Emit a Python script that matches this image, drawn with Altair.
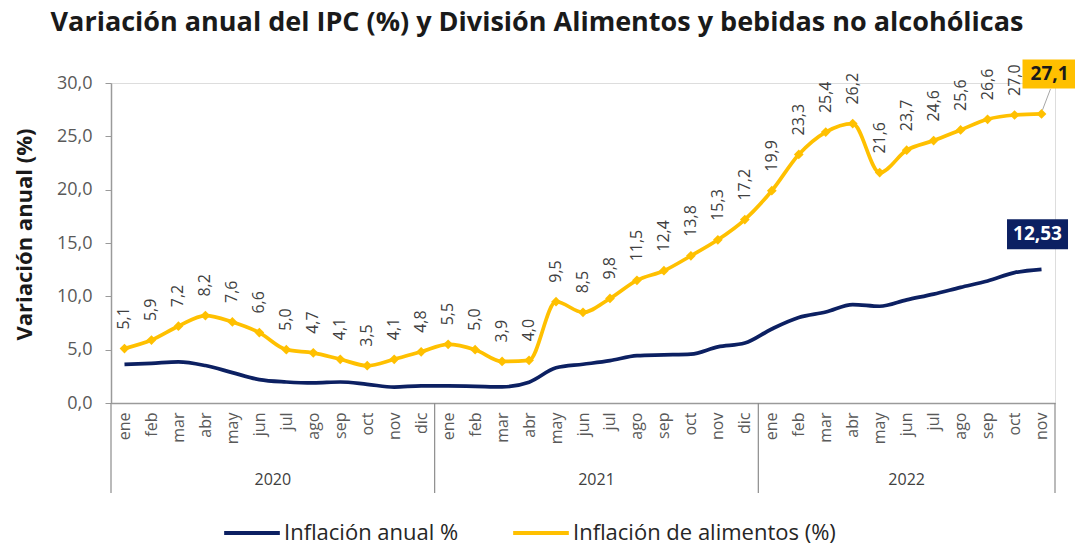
import json
import altair as alt
import pandas as pd

# ---------------- data ----------------
months = ["ene", "feb", "mar", "abr", "may", "jun", "jul", "ago", "sep", "oct", "nov", "dic"]
years = ["2020", "2021", "2022"]
months_per_year = [12, 12, 11]

general = [3.62, 3.72, 3.86, 3.51, 2.85, 2.19, 1.97, 1.88, 1.97, 1.75, 1.49, 1.61,
           1.60, 1.56, 1.51, 1.95, 3.30, 3.63, 3.97, 4.44, 4.51, 4.58, 5.26, 5.62,
           6.94, 8.01, 8.53, 9.23, 9.07, 9.67, 10.21, 10.84, 11.44, 12.22, 12.53]
food = [5.1, 5.9, 7.2, 8.2, 7.6, 6.6, 5.0, 4.7, 4.1, 3.5, 4.1, 4.8,
        5.5, 5.0, 3.9, 4.0, 9.5, 8.5, 9.8, 11.5, 12.4, 13.8, 15.3, 17.2,
        19.9, 23.3, 25.4, 26.2, 21.6, 23.7, 24.6, 25.6, 26.6, 27.0, 27.1]

series_names = ["Inflación anual %", "Inflación de alimentos (%)"]
series_colors = ["#0c2062", "#ffc000"]
y_ticks = [0, 5, 10, 15, 20, 25, 30]

title_text = "Variación anual del IPC (%) y División Alimentos y bebidas no alcohólicas"
y_title = "Variación anual (%)"

# ---------------- derived tables ----------------
month_labels = [m for n in months_per_year for m in months[:n]]
n_points = len(month_labels)
idx = list(range(n_points))

def fmt(v, d=1):
    return f"{v:.{d}f}".replace(".", ",")

long_df = pd.DataFrame(
    [{"idx": i, "serie": series_names[0], "value": v} for i, v in zip(idx, general)]
    + [{"idx": i, "serie": series_names[1], "value": v} for i, v in zip(idx, food)]
)
food_df = pd.DataFrame({"idx": idx, "value": food, "label": [fmt(v) for v in food]})
food_labels_df = food_df.iloc[:-1]
last_food_df = food_df.iloc[[-1]]
last_gen_df = pd.DataFrame({"idx": [idx[-1]], "value": [general[-1]], "label": [fmt(general[-1], 2)]})

starts = []
s = 0
for n in months_per_year:
    starts.append(s)
    s += n
year_df = pd.DataFrame({"year": years,
                        "center": [st + (n - 1) / 2 for st, n in zip(starts, months_per_year)]})
bound_df = pd.DataFrame({"b": [st - 0.5 for st in starts] + [n_points - 0.5]})

# ---------------- scales / axes ----------------
FONT = "Open Sans"
xscale = alt.Scale(domain=[-0.5, n_points - 0.5], nice=False, zero=False)
yscale = alt.Scale(domain=[0, 30], nice=False)

x_axis = alt.Axis(values=idx, labelExpr=f"{json.dumps(month_labels)}[datum.value]",
                  labelAngle=-90, labelFontSize=16, labelColor="#595959", ticks=False,
                  domainColor="#9a9a9a", domainWidth=1.5, labelPadding=9, title=None,
                  grid=False, labelFlush=False, labelOverlap=False, labelBound=False)
y_axis = alt.Axis(values=y_ticks, labelExpr="replace(format(datum.value, '.1f'), '.', ',')",
                  tickSize=6, tickColor="#9a9a9a", domainColor="#9a9a9a", domainWidth=1.5,
                  labelFontSize=18, labelColor="#595959", labelPadding=13,
                  title=y_title, titleFontSize=22, titleFontWeight="bold", titleColor="#1a1a1a",
                  titleX=-87, titleY=151, titleAngle=270, titleAlign="center",
                  titleBaseline="middle", grid=False, labelFlush=False, labelOverlap=False)


def X(field):
    return alt.X(field, scale=xscale, axis=x_axis)


def Y(field):
    return alt.Y(field, scale=yscale, axis=y_axis)


lines = alt.Chart(long_df).mark_line(interpolate="monotone", strokeWidth=3.7).encode(
    x=X("idx:Q"), y=Y("value:Q"),
    color=alt.Color("serie:N", scale=alt.Scale(domain=series_names, range=series_colors),
                    sort=series_names,
                    legend=alt.Legend(orient="none", legendX=111, legendY=420,
                                      direction="horizontal", title=None,
                                      symbolType="stroke", symbolSize=3100,
                                      symbolStrokeWidth=4, labelFontSize=22,
                                      labelFont=FONT, labelColor="#262626",
                                      labelLimit=600,
                                      columnPadding=46, labelOffset=2, padding=0)))

dividers = alt.Chart(bound_df).mark_rule(color="#8c8c8c", strokeWidth=1.2).encode(
    x=X("b:Q"), y=alt.value(320), y2=alt.value(410))

year_text = alt.Chart(year_df).mark_text(fontSize=16, color="#404040", font=FONT,
                                         baseline="middle").encode(
    x=X("center:Q"), y=alt.value(397), text="year:N")

diamonds = alt.Chart(food_df).mark_point(shape="diamond", filled=True, size=95,
                                         color=series_colors[1], opacity=1).encode(
    x=X("idx:Q"), y=Y("value:Q"))

labels = alt.Chart(food_labels_df).mark_text(angle=270, align="left", baseline="middle",
                                             dx=19, fontSize=16, color="#404040",
                                             font=FONT).encode(
    x=X("idx:Q"), y=Y("value:Q"), text="label:N")

leader = alt.Chart(last_food_df).mark_rule(color="#a6a6a6", strokeWidth=1,
                                           xOffset=1, yOffset=-4, x2Offset=9, y2Offset=-25).encode(
    x=X("idx:Q"), x2="idx:Q", y=Y("value:Q"), y2="value:Q")

box_food = alt.Chart(last_food_df).mark_point(
    shape="M-1,-0.537L1,-0.537L1,0.537L-1,0.537Z", size=54 * 54, filled=True,
    color=series_colors[1], opacity=1, xOffset=8, yOffset=-40).encode(
    x=X("idx:Q"), y=Y("value:Q"))
box_food_text = alt.Chart(last_food_df).mark_text(
    fontSize=19, fontWeight="bold", color="#1a1a1a", font=FONT, dx=8, dy=-40,
    align="center", baseline="middle").encode(
    x=X("idx:Q"), y=Y("value:Q"), text="label:N")

box_gen = alt.Chart(last_gen_df).mark_point(
    shape="M-1,-0.492L1,-0.492L1,0.492L-1,0.492Z", size=61 * 61, filled=True,
    color=series_colors[0], opacity=1, xOffset=-4, yOffset=-35).encode(
    x=X("idx:Q"), y=Y("value:Q"))
box_gen_text = alt.Chart(last_gen_df).mark_text(
    fontSize=19, fontWeight="bold", color="white", font=FONT, dx=-4, dy=-35,
    align="center", baseline="middle").encode(
    x=X("idx:Q"), y=Y("value:Q"), text="label:N")

chart = alt.layer(
    lines, dividers, year_text, diamonds, labels, leader,
    box_food, box_food_text, box_gen, box_gen_text
).properties(
    width=944, height=320,
    autosize=alt.AutoSizeParams(type="none"),
    padding={"left": 111, "top": 83, "right": 20, "bottom": 145},
    title=alt.TitleParams(title_text, fontSize=27, font=FONT, fontWeight="bold",
                          color="#1a1a1a", anchor="middle", dx=-46, offset=22),
).configure_view(stroke=None).configure(font=FONT)

chart.save("out.html", embed_options={"renderer": "svg", "actions": False})
